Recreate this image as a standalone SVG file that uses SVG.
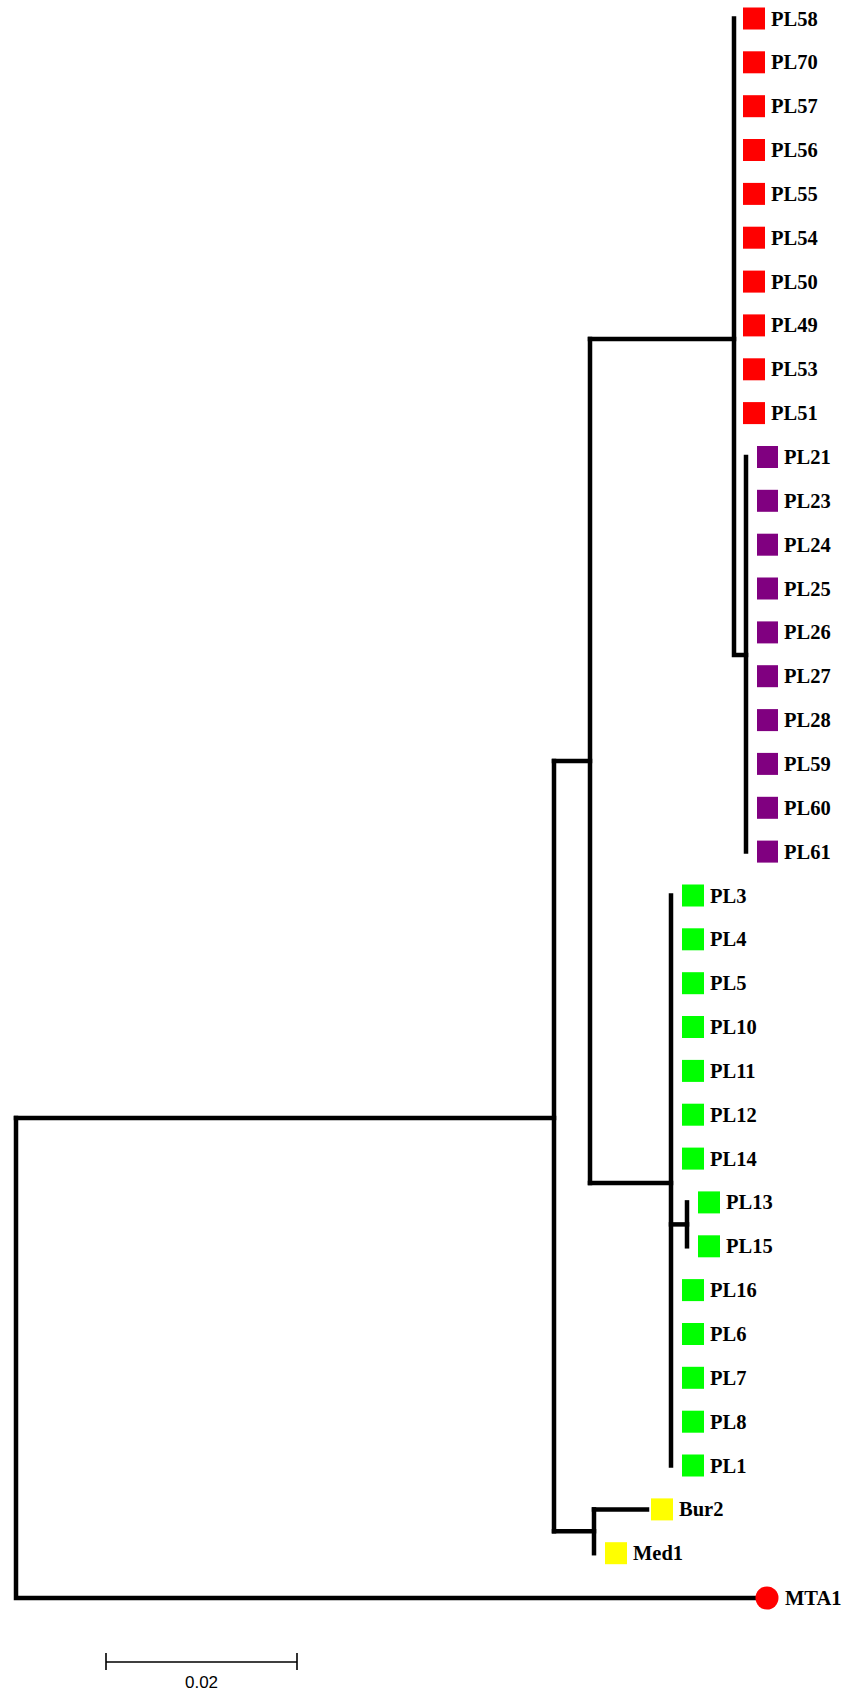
<svg xmlns="http://www.w3.org/2000/svg" width="852" height="1692" viewBox="0 0 852 1692">
<style>
.br{fill:none;stroke:#000;stroke-width:4.5;stroke-linecap:square;stroke-linejoin:miter}
.lb{font-family:"Liberation Serif","Times New Roman",serif;font-weight:bold;font-size:20.5px;fill:#000}
.r{fill:#ff0000}.p{fill:#800080}.g{fill:#00ff00}.y{fill:#ffff00}
.sb{stroke:#000;stroke-width:1.6;fill:none}
</style>
<rect width="852" height="1692" fill="#fff"/>
<g id="connectors">
<path class="br" d="M734,18.5V655H746"/>
<path class="br" d="M746,457V851.6"/>
<path class="br" d="M590,339H734"/>
<path class="br" d="M671,895.5V1465.5"/>
<path class="br" d="M671,1224.4H687"/>
<path class="br" d="M687,1202.4V1246.3"/>
<path class="br" d="M590,1183H671"/>
<path class="br" d="M590,339V1183"/>
<path class="br" d="M554,761H590"/>
<path class="br" d="M594,1509.4V1553.2"/>
<path class="br" d="M594,1509.4H647"/>
<path class="br" d="M554,1531.3H594"/>
<path class="br" d="M554,761V1531.3"/>
<path class="br" d="M16,1118H554"/>
<path class="br" d="M16,1118V1598H760"/>
</g>
<g id="leaves">
<g id="PL58"><rect class="r" x="743" y="7.5" width="22" height="22"/><text class="lb" x="771" y="25.5">PL58</text></g>
<g id="PL70"><rect class="r" x="743" y="51.3" width="22" height="22"/><text class="lb" x="771" y="69.3">PL70</text></g>
<g id="PL57"><rect class="r" x="743" y="95.2" width="22" height="22"/><text class="lb" x="771" y="113.2">PL57</text></g>
<g id="PL56"><rect class="r" x="743" y="139" width="22" height="22"/><text class="lb" x="771" y="157">PL56</text></g>
<g id="PL55"><rect class="r" x="743" y="182.9" width="22" height="22"/><text class="lb" x="771" y="200.9">PL55</text></g>
<g id="PL54"><rect class="r" x="743" y="226.7" width="22" height="22"/><text class="lb" x="771" y="244.7">PL54</text></g>
<g id="PL50"><rect class="r" x="743" y="270.6" width="22" height="22"/><text class="lb" x="771" y="288.6">PL50</text></g>
<g id="PL49"><rect class="r" x="743" y="314.4" width="22" height="22"/><text class="lb" x="771" y="332.4">PL49</text></g>
<g id="PL53"><rect class="r" x="743" y="358.3" width="22" height="22"/><text class="lb" x="771" y="376.3">PL53</text></g>
<g id="PL51"><rect class="r" x="743" y="402.1" width="22" height="22"/><text class="lb" x="771" y="420.1">PL51</text></g>
<g id="PL21"><rect class="p" x="757" y="446" width="21" height="22"/><text class="lb" x="784" y="464">PL21</text></g>
<g id="PL23"><rect class="p" x="757" y="489.8" width="21" height="22"/><text class="lb" x="784" y="507.8">PL23</text></g>
<g id="PL24"><rect class="p" x="757" y="533.7" width="21" height="22"/><text class="lb" x="784" y="551.7">PL24</text></g>
<g id="PL25"><rect class="p" x="757" y="577.5" width="21" height="22"/><text class="lb" x="784" y="595.5">PL25</text></g>
<g id="PL26"><rect class="p" x="757" y="621.4" width="21" height="22"/><text class="lb" x="784" y="639.4">PL26</text></g>
<g id="PL27"><rect class="p" x="757" y="665.2" width="21" height="22"/><text class="lb" x="784" y="683.2">PL27</text></g>
<g id="PL28"><rect class="p" x="757" y="709.1" width="21" height="22"/><text class="lb" x="784" y="727.1">PL28</text></g>
<g id="PL59"><rect class="p" x="757" y="752.9" width="21" height="22"/><text class="lb" x="784" y="770.9">PL59</text></g>
<g id="PL60"><rect class="p" x="757" y="796.8" width="21" height="22"/><text class="lb" x="784" y="814.8">PL60</text></g>
<g id="PL61"><rect class="p" x="757" y="840.6" width="21" height="22"/><text class="lb" x="784" y="858.6">PL61</text></g>
<g id="PL3"><rect class="g" x="682" y="884.5" width="22" height="22"/><text class="lb" x="710" y="902.5">PL3</text></g>
<g id="PL4"><rect class="g" x="682" y="928.3" width="22" height="22"/><text class="lb" x="710" y="946.3">PL4</text></g>
<g id="PL5"><rect class="g" x="682" y="972.2" width="22" height="22"/><text class="lb" x="710" y="990.2">PL5</text></g>
<g id="PL10"><rect class="g" x="682" y="1016" width="22" height="22"/><text class="lb" x="710" y="1034">PL10</text></g>
<g id="PL11"><rect class="g" x="682" y="1059.9" width="22" height="22"/><text class="lb" x="710" y="1077.9">PL11</text></g>
<g id="PL12"><rect class="g" x="682" y="1103.7" width="22" height="22"/><text class="lb" x="710" y="1121.7">PL12</text></g>
<g id="PL14"><rect class="g" x="682" y="1147.6" width="22" height="22"/><text class="lb" x="710" y="1165.6">PL14</text></g>
<g id="PL13"><rect class="g" x="698" y="1191.4" width="22" height="22"/><text class="lb" x="726" y="1209.4">PL13</text></g>
<g id="PL15"><rect class="g" x="698" y="1235.3" width="22" height="22"/><text class="lb" x="726" y="1253.3">PL15</text></g>
<g id="PL16"><rect class="g" x="682" y="1279.1" width="22" height="22"/><text class="lb" x="710" y="1297.1">PL16</text></g>
<g id="PL6"><rect class="g" x="682" y="1323" width="22" height="22"/><text class="lb" x="710" y="1341">PL6</text></g>
<g id="PL7"><rect class="g" x="682" y="1366.8" width="22" height="22"/><text class="lb" x="710" y="1384.8">PL7</text></g>
<g id="PL8"><rect class="g" x="682" y="1410.7" width="22" height="22"/><text class="lb" x="710" y="1428.7">PL8</text></g>
<g id="PL1"><rect class="g" x="682" y="1454.5" width="22" height="22"/><text class="lb" x="710" y="1472.5">PL1</text></g>
<g id="Bur2"><rect class="y" x="651" y="1498.4" width="22" height="22"/><text class="lb" x="679" y="1516.4">Bur2</text></g>
<g id="Med1"><rect class="y" x="605" y="1542.2" width="22" height="22"/><text class="lb" x="633" y="1560.2">Med1</text></g>
<g id="MTA1"><circle cx="767" cy="1598" r="11.5" fill="#ff0000"/><text class="lb" x="785" y="1605">MTA1</text></g>
</g>
<g id="scalebar">
<path class="sb" d="M106,1662H297M106,1653V1670M297,1653V1670"/>
<text x="201.5" y="1688" text-anchor="middle" font-family="Liberation Sans,Arial,sans-serif" font-size="17" fill="#000">0.02</text>
</g>
</svg>
